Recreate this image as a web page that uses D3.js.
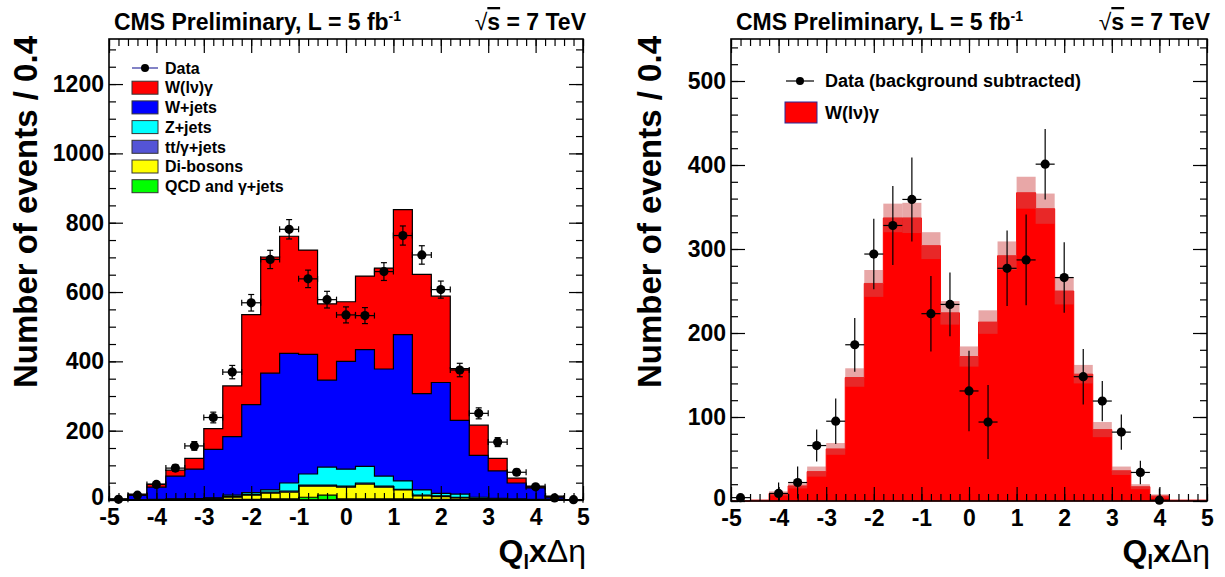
<!DOCTYPE html>
<html>
<head>
<meta charset="utf-8">
<script src="https://cdn.jsdelivr.net/npm/d3@7/dist/d3.min.js"></script>
<style>
  body { margin: 0; background: #fff; }
  svg { font-family: "Liberation Sans", Arial, Helvetica, sans-serif; font-weight: bold; }
</style>
</head>
<body>
<svg id="chart" width="1225" height="577"></svg>
<script>
// bins of width 0.4 from -5 to 5
var binCenters = d3.range(25).map(function(i) { return +(-4.8 + 0.4 * i).toFixed(1); });

// left: stacked MC (bottom -> top) and data
var qcd      = [0,0,0,0,1,2,2,2,3,3,8,14,3,3,3,3,2,2,2,1,0,0,0,0,0];
var dibosons = [0,0,1,1,1,1,6,12,17,20,32,26,34,43,34,26,10,8,4,2,2,1,1,0,0];
var ttbar    = [0,0,0,1,2,2,2,2,3,3,3,3,3,3,3,2,2,2,2,1,1,0,0,0,0];
var zjets    = [0,1,1,1,0,1,4,5,6,23,32,52,49,48,29,24,15,7,9,4,2,2,1,1,0];
var wjets    = [2,13,35,66,85,140,169,254,337,374,345,251,311,337,309,422,278,320,213,121,79,46,33,8,1];
var wgamma   = [1,3,9,17,31,60,146,260,335,338,301,220,172,212,291,361,344,249,149,87,36,14,5,2,0];
var dataLeft = [2,14,45,92,156,238,369,569,694,781,638,578,534,532,659,763,707,607,375,250,167,80,38,6,1];

// right: signal with uncertainty band, background-subtracted data
var signalRight = [0,1,9,18,35,62,147,259,337,337,304,224,172,213,292,367,348,250,151,85,36,17,6,1,1];
var signalUnc   = [0,0.5,2.5,3,6,7,11,16,17,18,16,14,12,14,17,19,18,16,11,9,5,3,2,0.5,0.5];
var dataRight   = [4,null,9,22,66,95,186,294,328,359,223,234,131,94,277,287,401,266,148,119,82,34,1,null,null];
var errRight    = [3,null,13,19,19,27,32,42,47,50,45,38,48,44,45,54,42,42,33,24,21,14,14,null,null];

var xTicks = [-5,-4,-3,-2,-1,0,1,2,3,4,5];
var yTicksLeft = [0,200,400,600,800,1000,1200];
var yTicksRight = [0,100,200,300,400,500];

var components = [
  {key: "qcd",   label: "QCD and \u03b3+jets", color: "#00ff00", values: qcd},
  {key: "dib",   label: "Di-bosons",           color: "#ffff00", values: dibosons},
  {key: "tt",    label: "tt/\u03b3+jets",      color: "#5454d6", values: ttbar},
  {key: "zj",    label: "Z+jets",              color: "#00ffff", values: zjets},
  {key: "wj",    label: "W+jets",              color: "#0000ff", values: wjets},
  {key: "wg",    label: "W(l\u03bd)\u03b3",    color: "#ff0000", values: wgamma}
];

var svg = d3.select("#chart");
var halfW = 0.2;

function stepPoints(vals) {
  var pts = [];
  vals.forEach(function(v, i) {
    pts.push({x: binCenters[i] - halfW, v: v, i: i});
    pts.push({x: binCenters[i] + halfW, v: v, i: i});
  });
  return pts;
}

function drawAxes(g, x, y, yMinor, yLabels) {
  var x0 = x.range()[0], x1 = x.range()[1], y0 = y.range()[0], y1 = y.range()[1];
  var xMinor = d3.range(51).map(function(i) { return -5 + 0.2 * i; });
  var fmt = function(d) { return String(d); };

  g.append("g").attr("transform", "translate(0," + y0 + ")")
    .call(d3.axisBottom(x).tickValues(xMinor).tickSize(-7).tickSizeOuter(0).tickFormat(""));
  g.append("g").attr("class", "lab").attr("transform", "translate(0," + y0 + ")")
    .call(d3.axisBottom(x).tickValues(xTicks).tickSize(-14).tickSizeOuter(0).tickPadding(9).tickFormat(fmt));
  g.append("g").attr("transform", "translate(0," + y1 + ")")
    .call(d3.axisTop(x).tickValues(xMinor).tickSize(-7).tickSizeOuter(0).tickFormat(""));
  g.append("g").attr("transform", "translate(0," + y1 + ")")
    .call(d3.axisTop(x).tickValues(xTicks).tickSize(-14).tickSizeOuter(0).tickFormat(""));

  g.append("g").attr("transform", "translate(" + x0 + ",0)")
    .call(d3.axisLeft(y).tickValues(yMinor).tickSize(-7).tickSizeOuter(0).tickFormat(""));
  g.append("g").attr("class", "lab ylab").attr("transform", "translate(" + x0 + ",0)")
    .call(d3.axisLeft(y).tickValues(yLabels).tickSize(-14).tickSizeOuter(0).tickPadding(5).tickFormat(fmt));
  g.append("g").attr("transform", "translate(" + x1 + ",0)")
    .call(d3.axisRight(y).tickValues(yMinor).tickSize(-7).tickSizeOuter(0).tickFormat(""));
  g.append("g").attr("transform", "translate(" + x1 + ",0)")
    .call(d3.axisRight(y).tickValues(yLabels).tickSize(-14).tickSizeOuter(0).tickFormat(""));

  g.selectAll(".domain").remove();
  g.selectAll(".tick line").attr("stroke", "#000").attr("stroke-width", 1.2);
  g.selectAll(".lab text").attr("font-size", 23).attr("font-weight", "bold")
    .attr("font-family", "Liberation Sans, Arial, sans-serif").attr("fill", "#000");
  // the zero label sits a little higher, as in the original
  g.selectAll(".ylab .tick text").filter(function(d) { return d === 0; }).attr("dy", "0.2em");

  g.append("rect").attr("x", x0).attr("y", y1).attr("width", x1 - x0).attr("height", y0 - y1)
    .attr("fill", "none").attr("stroke", "#000").attr("stroke-width", 1.6);
}

function drawTitles(x0, x1, yTitleX) {
  var t = svg.append("text").attr("x", x0 + 5).attr("y", 30).attr("font-size", 23);
  t.append("tspan").text("CMS Preliminary, L = 5 fb");
  t.append("tspan").attr("font-size", 14).attr("dy", -9).text("-1");
  var s = svg.append("text").attr("x", x1 + 3).attr("y", 30).attr("font-size", 23).attr("text-anchor", "end");
  s.append("tspan").attr("font-weight", "normal").text("\u221a");
  s.append("tspan").attr("text-decoration", "overline").text("s");
  s.append("tspan").text(" = 7 TeV");

  svg.append("text").attr("transform", "translate(" + yTitleX + ",36) rotate(-90)")
    .attr("text-anchor", "end").attr("font-size", 33).text("Number of events / 0.4");

  var xt = svg.append("text").attr("x", x1 + 3).attr("y", 562).attr("text-anchor", "end").attr("font-size", 32);
  xt.append("tspan").text("Q");
  xt.append("tspan").attr("font-size", 20).attr("dy", 7).text("l");
  xt.append("tspan").attr("dy", -7).text("x");
  xt.append("tspan").attr("font-weight", "normal").text("\u0394\u03b7");
}

// ---------------- left panel ----------------
(function() {
  var x = d3.scaleLinear().domain([-5, 5]).range([109, 583]);
  var y = d3.scaleLinear().domain([0, 1330]).range([500, 39]);
  var g = svg.append("g");

  var table = binCenters.map(function(c, i) {
    var row = {c: c};
    components.forEach(function(comp) { row[comp.key] = comp.values[i]; });
    return row;
  });
  var series = d3.stack().keys(components.map(function(c) { return c.key; }))(table);

  var area = d3.area()
    .x(function(d) { return x(d.x); })
    .y0(function(d) { return y(d.lo); })
    .y1(function(d) { return y(d.hi); });

  series.slice().reverse().forEach(function(s) {
    var comp = components.filter(function(c) { return c.key === s.key; })[0];
    var pts = [];
    s.forEach(function(d, i) {
      pts.push({x: binCenters[i] - halfW, lo: 0, hi: d[1]});
      pts.push({x: binCenters[i] + halfW, lo: 0, hi: d[1]});
    });
    g.append("path").datum(pts).attr("d", area)
      .attr("fill", comp.color).attr("stroke", "#000").attr("stroke-width", 1.2);
  });

  drawAxes(g, x, y, d3.range(0, 1330, 50), yTicksLeft);

  // data points with error bars and caps
  var pts = binCenters.map(function(c, i) { return {c: c, v: dataLeft[i], e: Math.sqrt(dataLeft[i])}; });
  var dg = g.append("g").attr("stroke", "#000").attr("stroke-width", 1.2);
  pts.forEach(function(d) {
    var cx = x(d.c), cy = y(d.v);
    dg.append("line").attr("x1", x(d.c - halfW)).attr("x2", x(d.c + halfW)).attr("y1", cy).attr("y2", cy);
    dg.append("line").attr("x1", cx).attr("x2", cx).attr("y1", y(Math.max(0, d.v - d.e))).attr("y2", y(d.v + d.e));
    [x(d.c - halfW), x(d.c + halfW)].forEach(function(xx) {
      dg.append("line").attr("x1", xx).attr("x2", xx).attr("y1", cy - 3).attr("y2", cy + 3);
    });
    [y(d.v + d.e), y(Math.max(0, d.v - d.e))].forEach(function(yy) {
      if (d.e > 2) dg.append("line").attr("x1", cx - 3).attr("x2", cx + 3).attr("y1", yy).attr("y2", yy);
    });
  });
  g.selectAll(".pt").data(pts).enter().append("circle")
    .attr("cx", function(d) { return x(d.c); }).attr("cy", function(d) { return y(d.v); })
    .attr("r", 4.6).attr("fill", "#000");

  // legend
  var lg = g.append("g").attr("font-size", 16);
  var rowY = [68, 87.7, 107.4, 127.1, 146.8, 166.5, 186.2];
  lg.append("line").attr("x1", 132).attr("x2", 158).attr("y1", rowY[0]).attr("y2", rowY[0])
    .attr("stroke", "#3030a0").attr("stroke-width", 1.2);
  lg.append("circle").attr("cx", 145).attr("cy", rowY[0]).attr("r", 4).attr("fill", "#000");
  lg.append("text").attr("x", 165).attr("y", rowY[0]).attr("dy", "0.36em").text("Data");
  components.slice().reverse().forEach(function(comp, i) {
    var yy = rowY[i + 1];
    lg.append("rect").attr("x", 132).attr("y", yy - 6.5).attr("width", 26).attr("height", 13)
      .attr("fill", comp.color).attr("stroke", "#333").attr("stroke-width", 1);
    lg.append("text").attr("x", 165).attr("y", yy).attr("dy", "0.36em").text(comp.label);
  });

  drawTitles(109, 583, 37);
})();

// ---------------- right panel ----------------
(function() {
  var x = d3.scaleLinear().domain([-5, 5]).range([731, 1207]);
  var y = d3.scaleLinear().domain([0, 550]).range([501, 39]);
  var g = svg.append("g");

  var area = d3.area()
    .x(function(d) { return x(d.x); })
    .y0(function() { return y(0); })
    .y1(function(d) { return y(d.v); });
  g.append("path").datum(stepPoints(signalRight)).attr("d", area)
    .attr("fill", "#ff0000").attr("stroke", "#ff0000").attr("stroke-width", 1);

  g.selectAll(".band").data(binCenters).enter().append("rect")
    .attr("x", function(c) { return x(c - halfW); })
    .attr("width", function(c) { return x(c + halfW) - x(c - halfW); })
    .attr("y", function(c, i) { return y(signalRight[i] + signalUnc[i]); })
    .attr("height", function(c, i) { return y(Math.max(0, signalRight[i] - signalUnc[i])) - y(signalRight[i] + signalUnc[i]); })
    .attr("fill", "rgb(209,80,80)").attr("fill-opacity", 0.5);

  drawAxes(g, x, y, d3.range(0, 550, 20), yTicksRight);

  var pts = binCenters.map(function(c, i) { return {c: c, v: dataRight[i], e: errRight[i]}; })
    .filter(function(d) { return d.v !== null; });
  var dg = g.append("g").attr("stroke", "#000").attr("stroke-width", 1.2);
  pts.forEach(function(d) {
    var cx = x(d.c), cy = y(d.v);
    dg.append("line").attr("x1", x(d.c - halfW)).attr("x2", x(d.c + halfW)).attr("y1", cy).attr("y2", cy);
    dg.append("line").attr("x1", cx).attr("x2", cx).attr("y1", y(Math.max(0, d.v - d.e))).attr("y2", y(d.v + d.e));
  });
  g.selectAll(".pt").data(pts).enter().append("circle")
    .attr("cx", function(d) { return x(d.c); }).attr("cy", function(d) { return y(d.v); })
    .attr("r", 4.6).attr("fill", "#000");

  // legend
  var lg = g.append("g").attr("font-size", 18);
  lg.append("line").attr("x1", 786).attr("x2", 814).attr("y1", 81).attr("y2", 81)
    .attr("stroke", "#000").attr("stroke-width", 1.2);
  lg.append("circle").attr("cx", 800).attr("cy", 81).attr("r", 4).attr("fill", "#000");
  lg.append("text").attr("x", 825).attr("y", 81).attr("dy", "0.36em").text("Data (background subtracted)");
  lg.append("rect").attr("x", 785).attr("y", 102).attr("width", 32).attr("height", 21)
    .attr("fill", "#ff0000").attr("stroke", "#2a2a9a").attr("stroke-width", 1);
  lg.append("text").attr("x", 825).attr("y", 113).attr("dy", "0.36em").text("W(l\u03bd)\u03b3");

  drawTitles(731, 1207, 661);
})();
</script>
</body>
</html>
